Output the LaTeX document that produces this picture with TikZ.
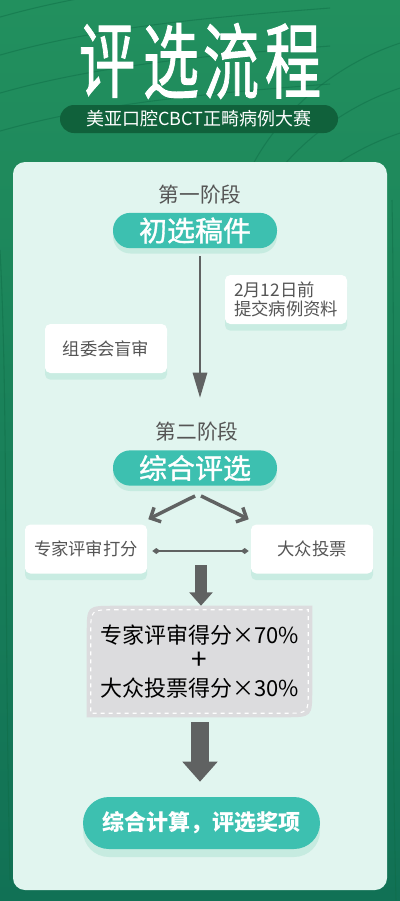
\documentclass[tikz,border=0pt]{standalone}
\usepackage{fontspec}
\newfontfamily\cjk{Noto Sans CJK SC}
\newfontfamily\cjkheavy[FakeBold=1.2]{Noto Sans CJK SC}
\usetikzlibrary{arrows.meta,positioning,calc,shadows}
\definecolor{leaftop}{HTML}{22905E}
\definecolor{leafbottom}{HTML}{117155}
\definecolor{vein}{HTML}{0E6B45}
\definecolor{pillgreen}{HTML}{10613B}
\definecolor{mint}{HTML}{E1F5EF}
\definecolor{tealpill}{HTML}{3DC0B0}
\definecolor{glow}{HTML}{C4EADF}
\definecolor{inkgray}{HTML}{555555}
\definecolor{arrowgray}{HTML}{606262}
\definecolor{calcgray}{HTML}{DCDCDE}

\begin{document}
\begin{tikzpicture}[x=0.75pt, y=-0.75pt, >=Stealth,
  titlechar/.style={text=white, font=\cjkheavy\fontsize{62}{62}\selectfont, inner sep=0pt},
  stagelabel/.style={text=inkgray, font=\cjk\fontsize{15.5}{18}\selectfont},
  stagepill/.style={fill=tealpill, text=white, font=\cjkheavy\fontsize{21}{24}\selectfont,
    minimum width=123pt, minimum height=26.5pt, inner ysep=0pt, rounded corners=13pt,
    drop shadow={shadow xshift=0pt, shadow yshift=-4pt, fill=glow, opacity=0.9}},
  notebox/.style={fill=white, text=inkgray, font=\cjk\fontsize{13}{15}\selectfont,
    minimum width=91.5pt, minimum height=36.75pt, rounded corners=4pt, align=left,
    drop shadow={shadow xshift=0pt, shadow yshift=-5pt, fill=glow, opacity=0.8}},
  flowline/.style={draw=arrowgray, line width=2.2pt, -{Triangle[length=19pt, width=10.5pt]}},
  chevron/.style={draw=arrowgray, line width=2.6pt, -{Straight Barb[length=6pt, width=12pt]}},
  linkline/.style={draw=arrowgray, line width=1pt, {Diamond[length=6pt, width=4.5pt]}-{Diamond[length=6pt, width=4.5pt]}},
  blockarrow/.style={draw=arrowgray, line width=9pt, -{Triangle[length=10pt, width=17pt]}},
  bigblock/.style={draw=arrowgray, line width=13.5pt, -{Triangle[length=15pt, width=25.5pt]}}]

  \useasboundingbox (0,0) rectangle (400,901);
  \fill[top color=leaftop, bottom color=leafbottom] (0,0) rectangle (400,901);
  \begin{scope}[vein, line width=0.8pt, opacity=0.45]
    \foreach \s in {0,38,76,114}
      \draw (-10,20+\s) .. controls (90,-10+\s) and (200,-20+\s) .. (330,-30+\s);
    \foreach \s in {0,45,90}
      \draw (410,40+\s) .. controls (340,60+\s) and (280,110+\s) .. (250,170+\s);
    \draw (0,250) .. controls (8,400) and (4,600) .. (10,880);
    \draw (392,200) .. controls (396,420) and (390,650) .. (396,900);
  \end{scope}

  \foreach \ch/\cx in {评/107, 选/171, 流/231, 程/293}
    \node[titlechar] (title-\ch) at (\cx,61) {\scalebox{0.68}[1]{\ch}};

  \node[fill=pillgreen, text=white, font=\cjk\fontsize{13.5}{15}\selectfont,
    minimum width=208.5pt, minimum height=21pt, rounded corners=10.5pt] (contest) at (199,119) {美亚口腔CBCT正畸病例大赛};

  \fill[mint, rounded corners=9pt] (13,162) rectangle (387,890);

  \node[stagelabel] (stage1) at (200,195) {第一阶段};
  \node[stagepill] (screen) at (195,230.5) {初选稿件};
  \node[notebox] (deadline) at (286,299.5) {2月12日前\\[-1pt]提交病例资料};
  \node[notebox] (blind) at (106,348.5) {组委会盲审};

  \node[stagelabel] (stage2) at (197,432) {第二阶段};
  \node[stagepill] (merge) at (195,468) {综合评选};

  \coordinate (drop) at (200,398);
  \draw[flowline] ($(screen.south -| drop)+(0,8)$) -- (drop);

  \node[notebox] (expert) at (86,549) {专家评审打分};
  \node[notebox] (public) at (312,549) {大众投票};
  \draw[chevron] ($(merge.south)+(0,10)$) -- ($(expert.north east)+(1,-5)$);
  \draw[chevron] ($(merge.south)+(6,10)$) -- ($(public.north west)+(-2,-5)$);
  \draw[linkline] ($(expert.east)+(5,2)$) -- ($(public.west)+(-2,2)$);

  \node[minimum width=168.75pt, minimum height=83.25pt] (calc) at (199.5,661.5) {};
  \fill[calcgray] ($(calc.north west)+(28,0)$) -- (calc.north east) -- ($(calc.south east)+(0,-28)$)
    .. controls (calc.south east) .. ($(calc.south east)+(-28,0)$) -- (calc.south west)
    -- ($(calc.north west)+(0,28)$) .. controls (calc.north west) .. cycle;
  \draw[white, line width=0.8pt, dashed] ($(calc.north west)+(28,4)$) -- ($(calc.north east)+(-4,4)$)
    -- ($(calc.south east)+(-4,-26)$) .. controls ($(calc.south east)+(-4,-4)$) .. ($(calc.south east)+(-28,-4)$)
    -- ($(calc.south west)+(4,-4)$) -- ($(calc.north west)+(4,28)$)
    .. controls ($(calc.north west)+(4,4)$) .. ($(calc.north west)+(28,4)$);
  \node[align=center, font=\cjk\fontsize{16.5}{20}\selectfont, text=black] (formula) at (calc.center)
    {专家评审得分×70\%\\{\fontsize{21}{20}\selectfont +}\\大众投票得分×30\%};

  \coordinate (gap) at (201,565);
  \draw[blockarrow] (gap) -- (gap |- calc.north);

  \node[fill=tealpill, text=white, font=\cjk\bfseries\fontsize{16.5}{19}\selectfont,
    minimum width=177.75pt, minimum height=39pt, rounded corners=19.5pt,
    drop shadow={shadow xshift=0pt, shadow yshift=-6pt, fill=glow, opacity=0.9}] (award) at (201.5,823) {综合计算，评选奖项};
  \draw[bigblock] ($(calc.south)+(0.5,5)$) -- ($(award.north)+(-1.5,-15)$);
\end{tikzpicture}
\end{document}
